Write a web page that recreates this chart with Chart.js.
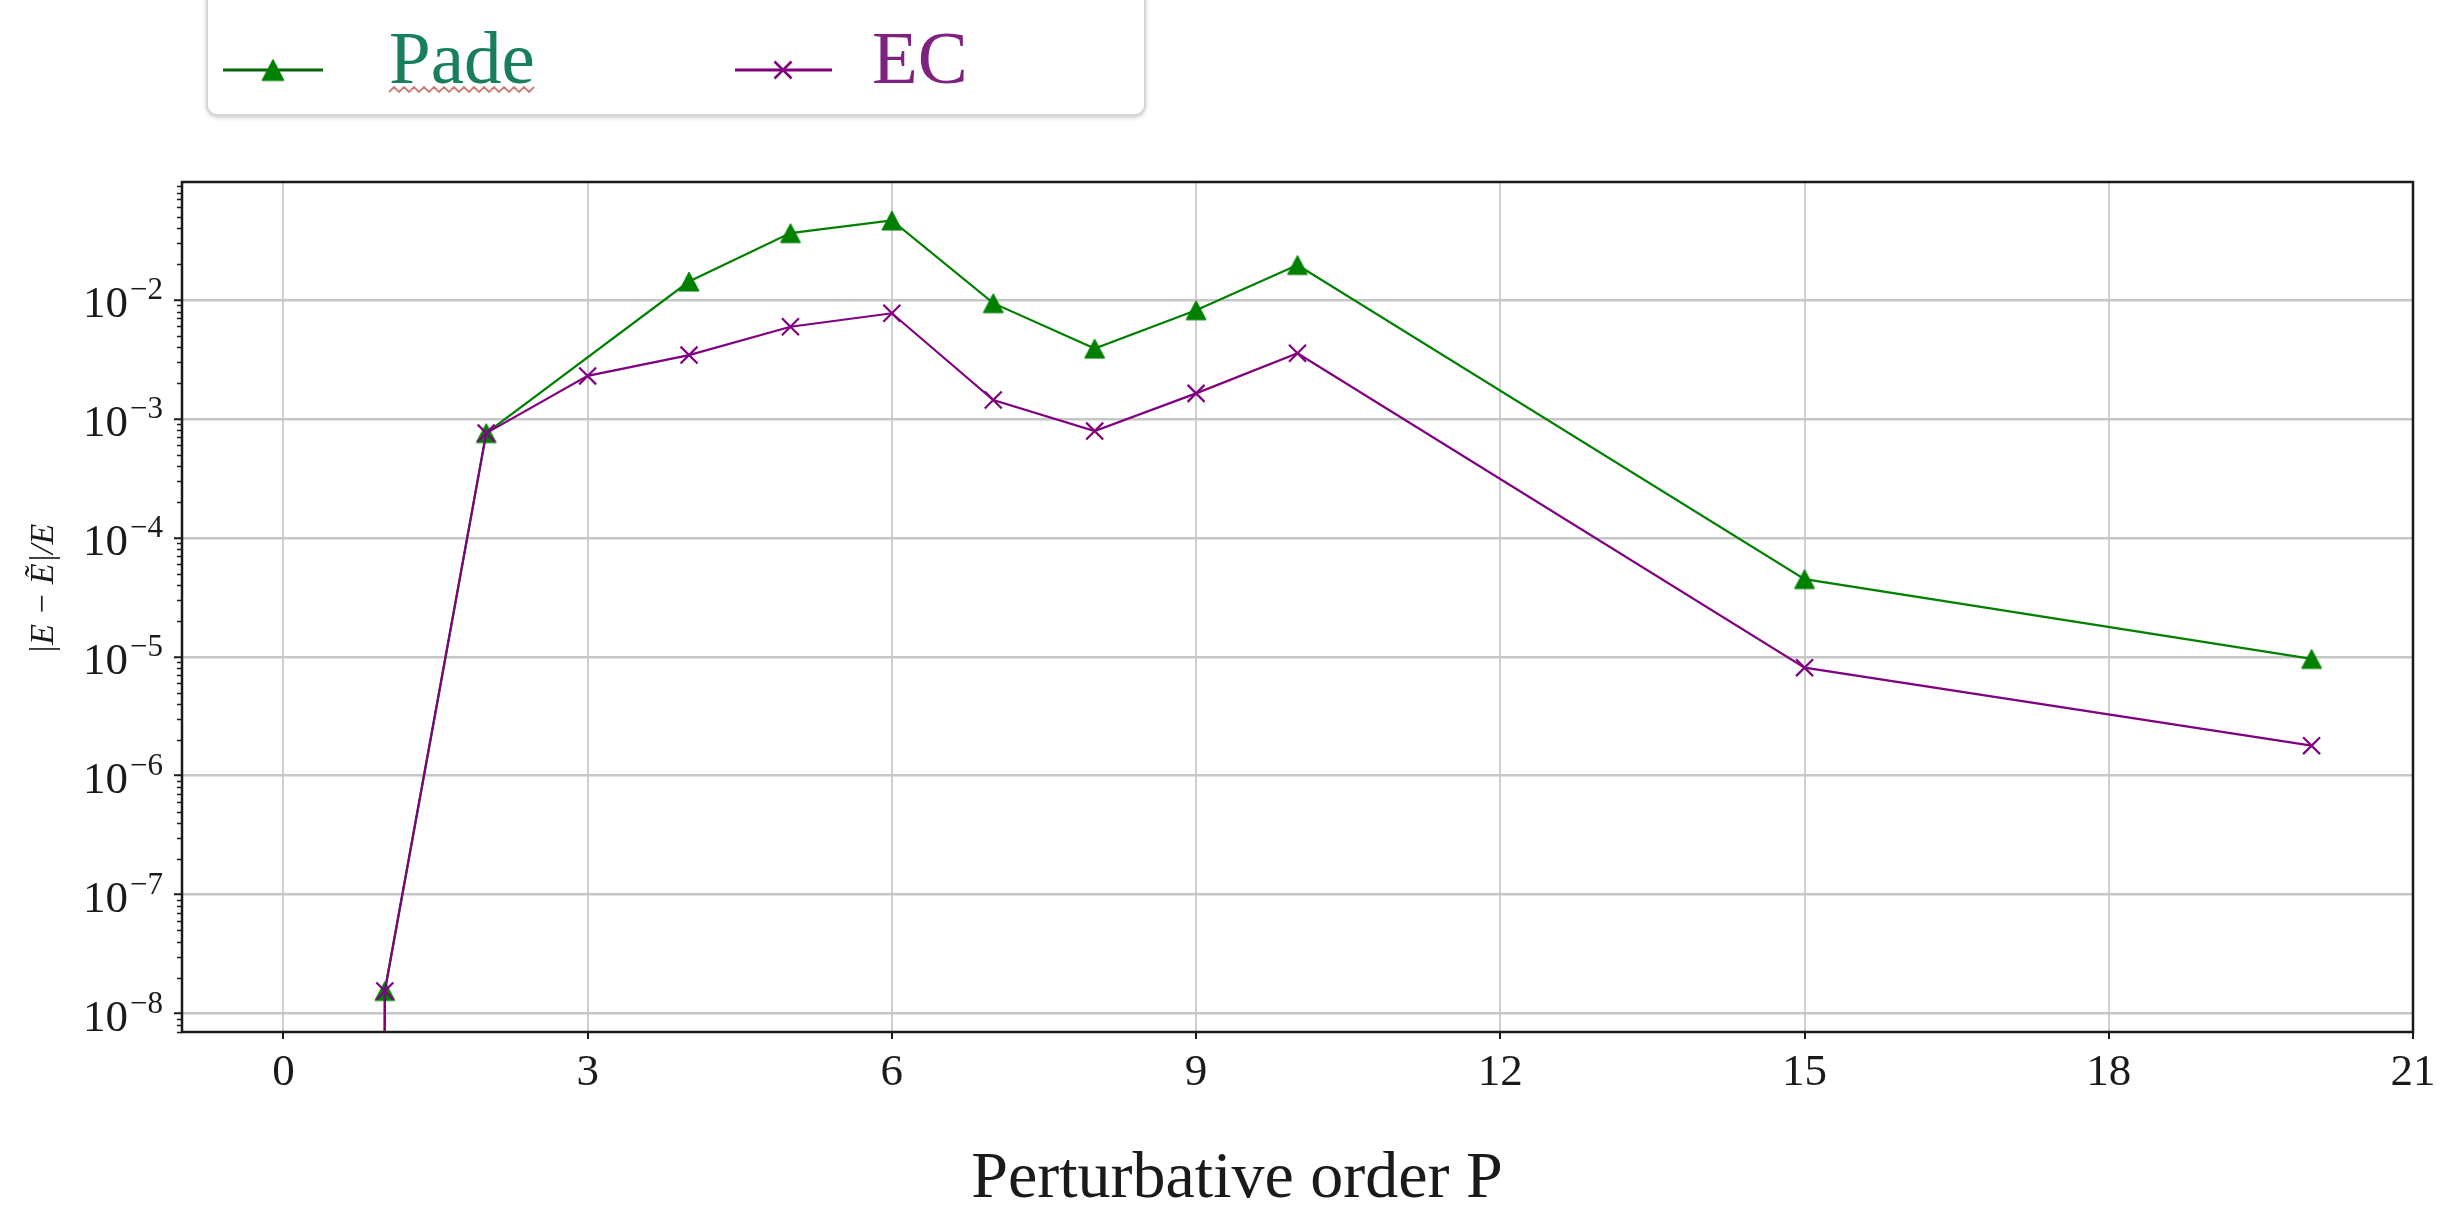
<!DOCTYPE html>
<html>
<head>
<meta charset="utf-8">
<script src="https://cdn.jsdelivr.net/npm/chart.js@4/dist/chart.umd.min.js"></script>
<style>
  html, body { margin: 0; padding: 0; background: #fff; }
  canvas { display: block; }
</style>
</head>
<body>
<canvas id="chart" width="2463" height="1206"></canvas>
<script>
// Relative error |E - Ẽ|/E against perturbative order P.
// The error at P = 0 is exactly zero, so it falls below the log axis.
const ordersPade = [0, 1, 2, 4, 5, 6, 7, 8, 9, 10, 15, 20];
const errorPade  = [0, 1.55e-8, 7.6e-4, 1.43e-2, 3.65e-2, 4.66e-2, 9.4e-3, 3.9e-3, 8.2e-3, 1.97e-2, 4.5e-5, 9.6e-6];
const ordersEC   = [0, 1, 2, 3, 4, 5, 6, 7, 8, 9, 10, 15, 20];
const errorEC    = [0, 1.55e-8, 7.6e-4, 2.3e-3, 3.44e-3, 5.96e-3, 7.73e-3, 1.44e-3, 7.9e-4, 1.64e-3, 3.56e-3, 8.1e-6, 1.79e-6];
const seriesNames = ['Pade', 'EC'];
const xTicks = [0, 3, 6, 9, 12, 15, 18, 21];
const yDecades = [-8, -7, -6, -5, -4, -3, -2];
const xTitle = 'Perturbative order P';
const yTitle = '|E \u2212 \u1EBC|/E';

// Non-positive values are clipped to a tiny floor, as a log axis does.
const LOG_FLOOR = 1e-300;
const toPoints = (xs, ys) => xs.map((x, i) => ({ x, y: ys[i] > 0 ? ys[i] : LOG_FLOOR }));

const SERIF = '"Liberation Serif", "Times New Roman", serif';
const INK = '#1a1a1a';
const GREEN = '#008000';
const PURPLE = '#800080';

// Upward triangle marker, centred on its bounding box.
function triangleMarker(color, w, h) {
  const c = document.createElement('canvas');
  c.width = Math.ceil(w) + 4;
  c.height = Math.ceil(h) + 4;
  const g = c.getContext('2d');
  const cx = c.width / 2, cy = c.height / 2;
  g.beginPath();
  g.moveTo(cx, cy - h / 2);
  g.lineTo(cx + w / 2, cy + h / 2);
  g.lineTo(cx - w / 2, cy + h / 2);
  g.closePath();
  g.fillStyle = color;
  g.fill();
  g.lineWidth = 1;
  g.strokeStyle = color;
  g.stroke();
  return c;
}
const triangle = triangleMarker(GREEN, 20, 19);
const legendTriangle = triangleMarker(GREEN, 22, 21);

function drawCross(ctx, x, y, half, color, lw) {
  ctx.save();
  ctx.strokeStyle = color;
  ctx.lineWidth = lw;
  ctx.beginPath();
  ctx.moveTo(x - half, y - half); ctx.lineTo(x + half, y + half);
  ctx.moveTo(x - half, y + half); ctx.lineTo(x + half, y - half);
  ctx.stroke();
  ctx.restore();
}

function roundRectPath(ctx, x, y, w, h, r) {
  ctx.beginPath();
  ctx.moveTo(x + r, y);
  ctx.lineTo(x + w - r, y);
  ctx.arcTo(x + w, y, x + w, y + r, r);
  ctx.lineTo(x + w, y + h - r);
  ctx.arcTo(x + w, y + h, x + w - r, y + h, r);
  ctx.lineTo(x + r, y + h);
  ctx.arcTo(x, y + h, x, y + h - r, r);
  ctx.lineTo(x, y + r);
  ctx.arcTo(x, y, x + r, y, r);
  ctx.closePath();
}

const decorations = {
  id: 'decorations',
  beforeDraw(chart) {
    const { ctx, width, height } = chart;
    ctx.save();
    ctx.fillStyle = '#fff';
    ctx.fillRect(0, 0, width, height);
    ctx.restore();
  },
  afterDatasetsDraw(chart) {
    // axes frame on top of the lines
    const { ctx, chartArea: a } = chart;
    ctx.save();
    ctx.strokeStyle = INK;
    ctx.lineWidth = 2.5;
    ctx.strokeRect(a.left, a.top, a.right - a.left, a.bottom - a.top);
    ctx.restore();
  },
  afterDraw(chart) {
    const { ctx, chartArea: a } = chart;
    const ys = chart.scales.y;

    // minor ticks on the log axis
    ctx.save();
    ctx.strokeStyle = INK;
    ctx.lineWidth = 1.6;
    ctx.beginPath();
    for (let e = -9; e <= -1; e++) {
      for (let m = 2; m <= 9; m++) {
        const v = m * Math.pow(10, e);
        if (v < ys.min || v > ys.max) continue;
        const py = Math.round(ys.getPixelForValue(v)) + 0.5;
        ctx.moveTo(a.left - 5, py);
        ctx.lineTo(a.left, py);
      }
    }
    ctx.stroke();
    ctx.restore();

    // decade labels 10^n
    ctx.save();
    ctx.fillStyle = INK;
    ctx.textAlign = 'right';
    ctx.textBaseline = 'alphabetic';
    const rightX = a.left - 19;
    for (const e of yDecades) {
      const py = ys.getPixelForValue(Math.pow(10, e));
      const sup = '\u2212' + Math.abs(e);
      ctx.font = `31px ${SERIF}`;
      const w = ctx.measureText(sup).width;
      ctx.fillText(sup, rightX, py - 1);
      ctx.font = `45px ${SERIF}`;
      ctx.fillText('10', rightX - w - 2, py + 17);
    }
    ctx.restore();

    // y title
    ctx.save();
    ctx.translate(44, 589);
    ctx.rotate(-Math.PI / 2);
    ctx.fillStyle = INK;
    ctx.font = `italic 34px ${SERIF}`;
    ctx.textAlign = 'center';
    ctx.textBaseline = 'middle';
    ctx.fillText(yTitle, 0, 0);
    ctx.restore();

    // x title
    ctx.save();
    ctx.fillStyle = INK;
    ctx.font = `66px ${SERIF}`;
    ctx.textAlign = 'center';
    ctx.textBaseline = 'alphabetic';
    ctx.fillText(xTitle, 1237, 1197);
    ctx.restore();

    // legend box
    ctx.save();
    ctx.shadowColor = 'rgba(0,0,0,0.25)';
    ctx.shadowBlur = 5;
    ctx.shadowOffsetY = 2;
    roundRectPath(ctx, 207, -20, 938, 135, 10);
    ctx.fillStyle = '#fff';
    ctx.fill();
    ctx.restore();
    ctx.save();
    roundRectPath(ctx, 207, -20, 938, 135, 10);
    ctx.strokeStyle = '#d6d6d6';
    ctx.lineWidth = 2;
    ctx.stroke();
    ctx.restore();

    // legend entry: Pade
    ctx.save();
    ctx.strokeStyle = '#0a650a';
    ctx.lineWidth = 3;
    ctx.beginPath();
    ctx.moveTo(223, 70); ctx.lineTo(323, 70);
    ctx.stroke();
    ctx.drawImage(legendTriangle, 273 - legendTriangle.width / 2, 70 - legendTriangle.height / 2);
    ctx.font = `75px ${SERIF}`;
    ctx.fillStyle = '#17805a';
    ctx.textAlign = 'left';
    ctx.textBaseline = 'alphabetic';
    ctx.fillText(seriesNames[0], 389, 83);
    const tw = ctx.measureText(seriesNames[0]).width;
    // wavy underline under the word
    ctx.strokeStyle = '#cc7b73';
    ctx.lineWidth = 1.8;
    ctx.beginPath();
    let up = true;
    ctx.moveTo(389, 92);
    for (let x = 389 + 5; x <= 389 + tw + 2; x += 5) {
      ctx.lineTo(x, up ? 87 : 92);
      up = !up;
    }
    ctx.stroke();
    ctx.restore();

    // legend entry: EC
    ctx.save();
    ctx.strokeStyle = PURPLE;
    ctx.lineWidth = 3;
    ctx.beginPath();
    ctx.moveTo(735, 70); ctx.lineTo(832, 70);
    ctx.stroke();
    drawCross(ctx, 783, 70, 8.5, PURPLE, 2.5);
    ctx.font = `75px ${SERIF}`;
    ctx.fillStyle = '#7e2180';
    ctx.textAlign = 'left';
    ctx.textBaseline = 'alphabetic';
    ctx.fillText(seriesNames[1], 872, 83);
    ctx.restore();
  }
};

new Chart(document.getElementById('chart'), {
  type: 'line',
  data: {
    datasets: [
      {
        label: seriesNames[0],
        data: toPoints(ordersPade, errorPade),
        borderColor: GREEN,
        borderWidth: 2.2,
        backgroundColor: GREEN,
        pointStyle: triangle,
        pointRadius: 10,
        tension: 0,
        fill: false,
        order: 1
      },
      {
        label: seriesNames[1],
        data: toPoints(ordersEC, errorEC),
        borderColor: PURPLE,
        borderWidth: 2.2,
        backgroundColor: PURPLE,
        pointStyle: 'crossRot',
        pointRadius: 12,
        pointBorderWidth: 2.2,
        pointBorderColor: PURPLE,
        tension: 0,
        fill: false,
        order: 0
      }
    ]
  },
  options: {
    responsive: false,
    devicePixelRatio: 1,
    animation: false,
    layout: { padding: { top: 182, right: 50, left: 0, bottom: 0 } },
    plugins: { legend: { display: false }, tooltip: { enabled: false }, title: { display: false } },
    scales: {
      x: {
        type: 'linear',
        min: -1,
        max: 21,
        afterBuildTicks: s => { s.ticks = xTicks.map(v => ({ value: v })); },
        afterFit: s => { s.height = 174; },
        border: { display: false },
        grid: {
          color: '#cfcfcf',
          lineWidth: 2,
          drawTicks: true,
          tickLength: 7,
          tickColor: INK,
          tickWidth: 2
        },
        ticks: {
          autoSkip: false,
          maxRotation: 0,
          padding: 7,
          color: INK,
          font: { family: SERIF, size: 45 }
        }
      },
      y: {
        type: 'logarithmic',
        min: Math.pow(10, -8.134),
        max: Math.pow(10, -1.008),
        afterBuildTicks: s => { s.ticks = yDecades.map(e => ({ value: Math.pow(10, e) })); },
        afterFit: s => { s.width = 182; },
        border: { display: false },
        grid: {
          color: '#c6c6c6',
          lineWidth: 2.5,
          drawTicks: true,
          tickLength: 8,
          tickColor: INK,
          tickWidth: 2
        },
        ticks: { display: false }
      }
    }
  },
  plugins: [decorations]
});
</script>
</body>
</html>
